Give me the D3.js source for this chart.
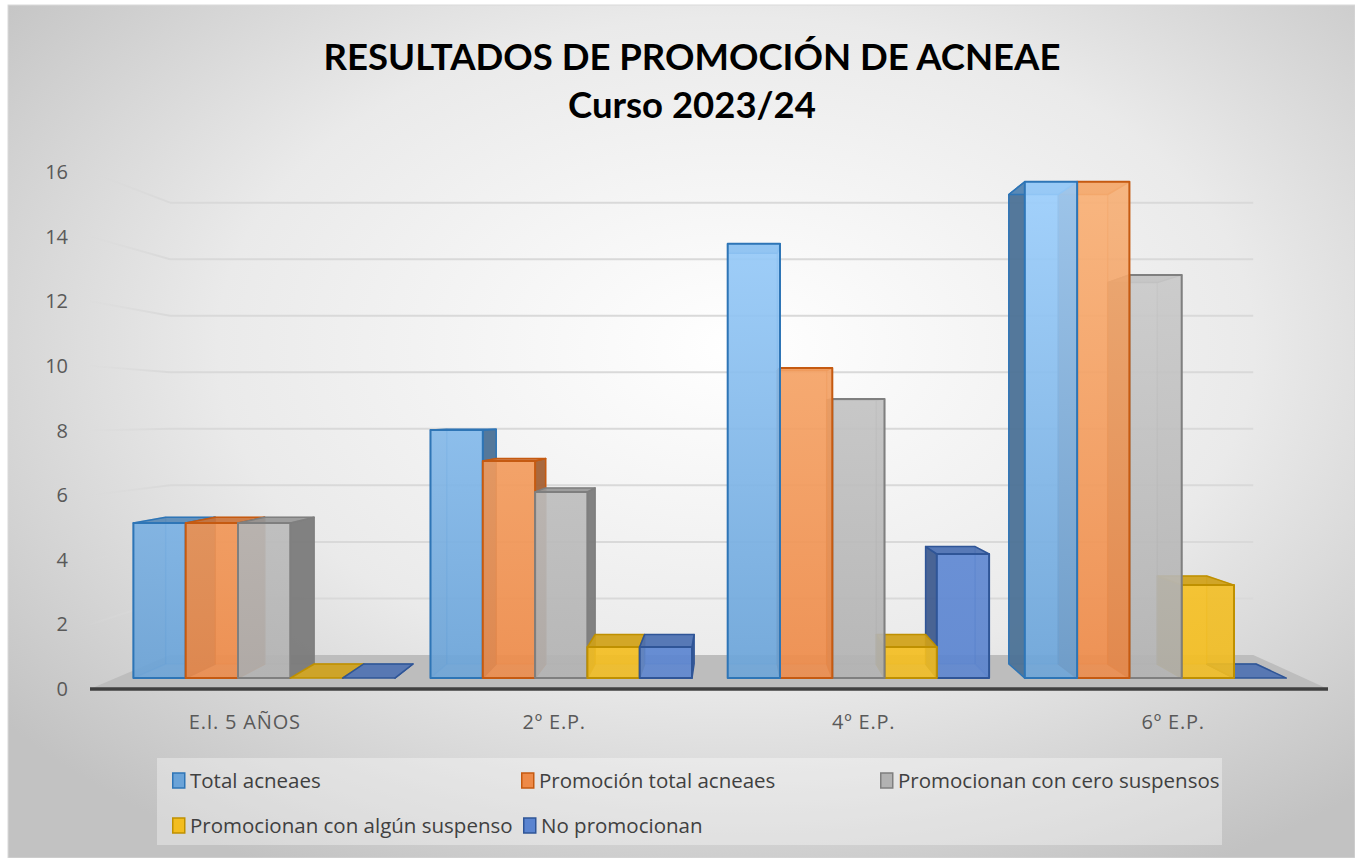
<!DOCTYPE html>
<html>
<head>
<meta charset="utf-8">
<script src="https://cdn.jsdelivr.net/npm/d3@7"></script>
<style>
  body { margin: 0; background: #fff; }
  svg { display: block; }
  text { font-family: Lato, "Noto Sans", sans-serif; }
  .lbl { font-family: "Open Sans", "Noto Sans", sans-serif; }
</style>
</head>
<body>
<div id="chart"></div>
<script>
// datos del gráfico
const categories = ["E.I. 5 AÑOS", "2º E.P.", "4º E.P.", "6º E.P."];
const seriesNames = ["Total acneaes", "Promoción total acneaes", "Promocionan con cero suspensos", "Promocionan con algún suspenso", "No promocionan"];
const totalAcneaes = [5, 8, 14, 16];
const promocionTotal = [5, 7, 10, 16];
const ceroSuspensos = [5, 6, 9, 13];
const algunSuspenso = [0, 1, 1, 3];
const noPromocionan = [0, 1, 4, 0];
const yTicks = [0, 2, 4, 6, 8, 10, 12, 14, 16];

const seriesValues = [totalAcneaes, promocionTotal, ceroSuspensos, algunSuspenso, noPromocionan];
// base, top of gradient, edge
const colors = [
  ["#6aa3d8", "#a0d2ff", "#2e75b6"],
  ["#ee8a48", "#fab47a", "#c55a11"],
  ["#b2b2b2", "#d2d2d2", "#7f7f7f"],
  ["#f3bd1f", "#ffd040", "#bf9000"],
  ["#5a84d0", "#6d94dc", "#2f5597"]
];

const W = 1355, H = 858;
const VPx = 730, VPy = 417;          // punto de fuga
const sFront = 0.96, sBack = 0.908, sWall = 0.875;

const svg = d3.select("#chart").append("svg").attr("width", W).attr("height", H);
const defs = svg.append("defs");

let bg = defs.append("radialGradient").attr("id", "bg")
  .attr("cx", "54%").attr("cy", "40%").attr("r", "70%");
bg.append("stop").attr("offset", "0%").attr("stop-color", "#ffffff");
bg.append("stop").attr("offset", "55%").attr("stop-color", "#eaeaea");
bg.append("stop").attr("offset", "100%").attr("stop-color", "#c2c2c2");

svg.append("rect").attr("x", 8).attr("y", 5).attr("width", W - 8).attr("height", H - 5)
  .attr("fill", "url(#bg)").attr("stroke", "#d9d9d9").attr("stroke-width", 1);

let y = d3.scaleLinear().domain([0, 16]).range([689, 172]);
let x = d3.scaleBand().domain(categories).range([90, 1328]).paddingInner(0.12).paddingOuter(0.06);
let xs = d3.scaleBand().domain(seriesNames).range([0, x.bandwidth()]);

function project(X, v, s) {
  return [VPx + (X - VPx) * s, VPy + (y(v) - VPy) * s];
}
function poly(pts) {
  return "M" + pts.map(p => p[0].toFixed(1) + "," + p[1].toFixed(1)).join("L") + "Z";
}

// gradientes de las columnas
colors.forEach((c, i) => {
  let g = defs.append("linearGradient").attr("id", "grad" + i)
    .attr("gradientUnits", "userSpaceOnUse")
    .attr("x1", 0).attr("x2", 0).attr("y1", y(16)).attr("y2", y(0));
  g.append("stop").attr("offset", "0%").attr("stop-color", c[1]);
  g.append("stop").attr("offset", "100%").attr("stop-color", c[0]);
});

let sideGrad = defs.append("linearGradient").attr("id", "sideGrad")
  .attr("gradientUnits", "userSpaceOnUse").attr("x1", 90).attr("x2", 170).attr("y1", 0).attr("y2", 0);
sideGrad.append("stop").attr("offset", "0%").attr("stop-color", "#d9d9d9").attr("stop-opacity", 0.15);
sideGrad.append("stop").attr("offset", "100%").attr("stop-color", "#d9d9d9").attr("stop-opacity", 1);

// titulo
svg.append("text").attr("x", 692).attr("y", 70).attr("text-anchor", "middle")
  .attr("font-size", 36.5).attr("font-weight", 700).attr("fill", "#000")
  .text("RESULTADOS DE PROMOCIÓN DE ACNEAE");
svg.append("text").attr("x", 692).attr("y", 118).attr("text-anchor", "middle")
  .attr("font-size", 36.5).attr("font-weight", 700).attr("fill", "#000")
  .text("Curso 2023/24");

// rejilla: pared lateral y pared del fondo
let grid = svg.append("g");
yTicks.filter(t => t > 0).forEach(t => {
  let a = project(90, t, 1), b = project(90, t, sWall), c = project(1328, t, sWall);
  grid.append("line").attr("x1", a[0]).attr("y1", a[1]).attr("x2", b[0]).attr("y2", b[1])
    .attr("stroke", "url(#sideGrad)").attr("stroke-width", 2);
  grid.append("line").attr("x1", b[0]).attr("y1", b[1]).attr("x2", c[0]).attr("y2", c[1])
    .attr("stroke", "#d9d9d9").attr("stroke-width", 2);
});

// suelo
svg.append("path")
  .attr("d", poly([project(90, 0, 1), project(1328, 0, 1), project(1328, 0, sWall), project(90, 0, sWall)]))
  .attr("fill", "#bdbdbd");
svg.append("line").attr("x1", 90).attr("x2", 1328).attr("y1", y(0)).attr("y2", y(0))
  .attr("stroke", "#404040").attr("stroke-width", 3.5);

// eje Y
svg.append("g").selectAll("text").data(yTicks).enter().append("text")
  .attr("class", "lbl")
  .attr("x", 68).attr("y", d => y(d) + 7).attr("text-anchor", "end")
  .attr("font-size", 20).attr("fill", "#595959").text(d => d);

// eje X
svg.append("g").selectAll("text").data(categories).enter().append("text")
  .attr("class", "lbl")
  .attr("x", d => x(d) + x.bandwidth() / 2).attr("y", 729).attr("text-anchor", "middle")
  .attr("font-size", 20).attr("letter-spacing", 0.8).attr("fill", "#595959").text(d => d);

// columnas 3D
let bars = [];
categories.forEach((cat, ci) => {
  seriesNames.forEach((s, si) => {
    let X0 = x(cat) + xs(s), X1 = X0 + xs.bandwidth();
    bars.push({ X0, X1, v: seriesValues[si][ci], si });
  });
});
bars.sort((a, b) => Math.abs((b.X0 + b.X1) / 2 - VPx) - Math.abs((a.X0 + a.X1) / 2 - VPx));

let barG = svg.append("g");
bars.forEach(d => {
  let c = colors[d.si];
  let g = barG.append("g").attr("stroke", c[2]).attr("stroke-linejoin", "round");
  let side = d3.color(c[0]).darker(1.1).formatHex();
  let top = d3.color(c[0]).darker(0.45).formatHex();
  let f0 = project(d.X0, 0, sFront), f1 = project(d.X1, 0, sFront);
  let f2 = project(d.X1, d.v, sFront), f3 = project(d.X0, d.v, sFront);
  let b0 = project(d.X0, 0, sBack), b1 = project(d.X1, 0, sBack);
  let b2 = project(d.X1, d.v, sBack), b3 = project(d.X0, d.v, sBack);
  // cara trasera
  g.append("path").attr("d", poly([b0, b1, b2, b3])).attr("fill", c[0]).attr("fill-opacity", 0.35)
    .attr("stroke-opacity", 0.35).attr("stroke-width", 1);
  // laterales
  let leftVis = d.X0 > VPx, rightVis = d.X1 < VPx;
  g.append("path").attr("d", poly([f0, b0, b3, f3])).attr("fill", side)
    .attr("fill-opacity", leftVis ? 0.9 : 0.25).attr("stroke-opacity", leftVis ? 1 : 0.3).attr("stroke-width", 1.5);
  g.append("path").attr("d", poly([f1, b1, b2, f2])).attr("fill", side)
    .attr("fill-opacity", rightVis ? 0.9 : 0.25).attr("stroke-opacity", rightVis ? 1 : 0.3).attr("stroke-width", 1.5);
  // tapa
  g.append("path").attr("d", poly([f3, f2, b2, b3])).attr("fill", top)
    .attr("fill-opacity", 0.9).attr("stroke-width", 1.5);
  // frente
  if (d.v > 0) {
    g.append("path").attr("d", poly([f0, f1, f2, f3])).attr("fill", "url(#grad" + d.si + ")")
      .attr("fill-opacity", 0.88).attr("stroke-width", 2);
  }
});

// leyenda
svg.append("rect").attr("x", 157).attr("y", 758).attr("width", 1065).attr("height", 87)
  .attr("fill", "#ffffff").attr("fill-opacity", 0.35);
const legendPos = [[172, 781], [521, 781], [880, 781], [172, 826], [523, 826]];
let leg = svg.append("g").selectAll("g").data(seriesNames).enter().append("g")
  .attr("transform", (d, i) => `translate(${legendPos[i][0]},${legendPos[i][1]})`);
leg.append("rect").attr("x", 0.75).attr("y", -8).attr("width", 12).attr("height", 15)
  .attr("fill", (d, i) => colors[i][0]).attr("stroke", (d, i) => colors[i][2]).attr("stroke-width", 1.5);
leg.append("text").attr("class", "lbl").attr("x", 18).attr("y", 7).attr("font-size", 20.5)
  .attr("fill", "#404040").text(d => d);
</script>
</body>
</html>
